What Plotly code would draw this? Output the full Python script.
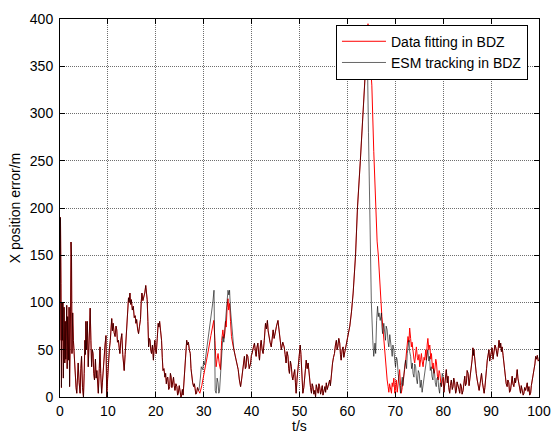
import plotly.graph_objects as go

# ---- data (t in s, error in m) ----
# common part (both curves coincide), 0 - 29 s
seg_a = [(0, 60), (0.1, 190), (0.2, 120), (0.3, 10), (0.4, 100), (0.5, 60), (0.6, 100), (0.7, 20),
         (0.85, 95), (1.0, 36), (1.1, 80), (1.2, 40), (1.4, 97), (1.5, 30), (1.6, 85), (1.8, 39),
         (1.9, 95), (2.0, 11), (2.2, 90), (2.3, 164), (2.4, 150), (2.5, 46), (2.65, 89), (2.8, 60),
         (3.0, 40), (3.1, 25), (3.2, 18), (3.35, 10), (3.5, 4), (3.65, 20), (3.8, 36), (4.0, 15),
         (4.2, 4), (4.35, 30), (4.5, 43), (4.7, 10), (4.9, 0), (5.05, 25), (5.2, 60), (5.3, 45),
         (5.4, 80), (5.55, 50), (5.7, 80), (5.9, 32), (6.1, 60), (6.3, 94), (6.45, 60), (6.6, 32),
         (6.75, 50), (6.9, 46), (7.05, 25), (7.2, 18), (7.4, 40), (7.55, 20), (7.7, 28), (7.85, 10),
         (8.0, 4), (8.2, 30), (8.35, 53), (8.5, 25), (8.7, 4), (8.85, 15), (9.0, 30), (9.2, 46),
         (9.4, 55), (9.6, 65), (9.75, 0), (9.95, 20), (10.1, 36), (10.3, 50), (10.5, 60),
         (10.65, 75), (10.8, 83), (10.95, 70), (11.1, 78), (11.3, 68), (11.5, 64), (11.7, 75),
         (11.85, 71), (12.0, 58), (12.2, 60), (12.35, 52), (12.5, 46), (12.7, 60), (12.9, 67),
         (13.1, 45), (13.25, 38), (13.4, 28), (13.6, 45), (13.8, 60), (14.0, 85), (14.15, 98),
         (14.3, 105), (14.45, 100), (14.6, 110), (14.75, 98), (14.9, 103), (15.1, 92), (15.3, 96),
         (15.5, 84), (15.7, 86), (15.85, 78), (16.0, 82), (16.2, 72), (16.4, 67), (16.6, 75),
         (16.8, 82), (16.95, 100), (17.1, 110), (17.3, 102), (17.5, 106), (17.7, 110), (17.9, 118),
         (18.05, 108), (18.2, 103), (18.35, 80), (18.5, 53), (18.65, 62), (18.8, 60), (18.95, 50),
         (19.1, 46), (19.3, 55), (19.5, 39), (19.65, 52), (19.8, 60), (19.95, 50), (20.1, 46),
         (20.3, 62), (20.5, 78), (20.65, 74), (20.8, 80), (21.0, 70), (21.2, 60), (21.35, 42),
         (21.5, 28), (21.7, 30), (21.9, 21), (22.05, 25), (22.2, 14), (22.35, 20), (22.5, 21),
         (22.7, 8), (22.9, 11), (23.05, 25), (23.2, 21), (23.35, 10), (23.5, 14), (23.7, 21),
         (23.85, 12), (24.0, 7), (24.2, 14), (24.4, 11), (24.55, 2), (24.7, 4), (24.9, 12),
         (25.1, 7), (25.25, 0), (25.4, 2), (25.55, 8), (25.7, 2), (25.9, 15), (26.1, 32),
         (26.3, 50), (26.45, 60), (26.6, 55), (26.8, 58), (27.0, 50), (27.2, 46), (27.35, 30),
         (27.5, 21), (27.7, 15), (27.9, 11), (28.05, 14), (28.2, 9), (28.35, 3), (28.5, 4),
         (28.7, 10), (28.9, 7)]

# 29 - 36 s, the curves differ
red_b = [(29.2, 4), (29.6, 12), (30.0, 22), (30.5, 35), (31.0, 50), (31.5, 65), (32.1, 81),
         (32.35, 60), (32.6, 32), (32.8, 40), (33.0, 46), (33.25, 35), (33.5, 29), (33.75, 60),
         (34.0, 71), (34.2, 62), (34.4, 67), (34.55, 80), (34.7, 74), (34.9, 95), (35.07, 104),
         (35.2, 92), (35.4, 99), (35.6, 80), (35.8, 64), (36.1, 55)]
black_b = [(29.0, 7), (29.3, 20), (29.5, 32), (29.8, 29), (30.0, 38), (30.2, 34), (30.5, 45),
           (30.9, 64), (31.2, 72), (31.6, 88), (31.9, 100), (32.15, 113), (32.3, 60), (32.4, 7),
           (32.6, 4), (32.8, 20), (33.0, 15), (33.15, 4), (33.3, 6), (33.5, 25), (33.7, 36),
           (34.0, 64), (34.2, 58), (34.35, 67), (34.5, 85), (34.7, 92), (34.9, 105), (35.07, 113),
           (35.25, 108), (35.4, 113), (35.6, 92), (35.85, 75), (36.1, 60)]

# common part, 36 - 63.6 s
seg_c = [(36.3, 50), (36.55, 44), (36.8, 39), (37.0, 33), (37.2, 29), (37.45, 18), (37.7, 11),
         (37.95, 20), (38.2, 29), (38.35, 40), (38.5, 43), (38.7, 30), (38.85, 32), (39.0, 45),
         (39.2, 43), (39.5, 30), (39.8, 36), (39.95, 44), (40.1, 46), (40.35, 52), (40.6, 57),
         (40.8, 48), (40.95, 43), (41.1, 52), (41.3, 57), (41.5, 45), (41.65, 39), (41.85, 55),
         (42.0, 60), (42.2, 50), (42.4, 46), (42.65, 60), (42.9, 78), (43.1, 72), (43.3, 81),
         (43.45, 70), (43.6, 64), (43.85, 58), (44.1, 53), (44.3, 65), (44.5, 71), (44.7, 62),
         (44.95, 71), (45.2, 75), (45.5, 81), (45.7, 70), (45.85, 64), (46.0, 57), (46.2, 50),
         (46.5, 58), (46.8, 53), (47.0, 45), (47.2, 36), (47.4, 48), (47.6, 43), (47.75, 30),
         (47.9, 25), (48.1, 38), (48.3, 32), (48.45, 22), (48.6, 18), (48.8, 24), (49.0, 29),
         (49.15, 15), (49.3, 4), (49.5, 20), (49.7, 32), (49.85, 42), (50.0, 50), (50.15, 55),
         (50.3, 45), (50.5, 20), (50.7, 4), (50.9, 10), (51.1, 18), (51.25, 30), (51.4, 39),
         (51.6, 30), (51.8, 36), (51.95, 25), (52.1, 18), (52.3, 10), (52.5, 4), (52.65, 14),
         (52.8, 11), (53.0, 3), (53.2, 7), (53.35, 0), (53.5, 13), (53.7, 8), (53.9, 4),
         (54.05, 14), (54.2, 11), (54.4, 3), (54.6, 7), (54.75, 12), (54.9, 2), (55.1, 8),
         (55.3, 11), (55.45, 5), (55.6, 15), (55.8, 8), (55.95, 11), (56.1, 15), (56.3, 18),
         (56.45, 12), (56.6, 22), (56.75, 30), (56.9, 36), (57.1, 42), (57.3, 46), (57.5, 55),
         (57.7, 60), (57.85, 50), (58.0, 53), (58.2, 62), (58.4, 57), (58.55, 45), (58.7, 39),
         (58.9, 50), (59.1, 53), (59.25, 42), (59.4, 46), (59.65, 55), (59.9, 60), (60.2, 68),
         (60.5, 75), (60.85, 90), (61.2, 110), (61.7, 150), (62.1, 200), (62.7, 250), (63.3, 300),
         (63.6, 330)]

# 63.6 - 80 s, the curves differ
red_d = [(64.0, 370), (64.3, 395), (64.7, 360), (65.1, 330), (65.5, 260), (65.9, 200),
         (66.2, 165), (66.45, 150), (66.7, 124), (67.0, 101), (67.2, 85), (67.4, 74), (67.6, 60),
         (67.8, 50), (67.95, 35), (68.1, 25), (68.3, 18), (68.5, 11), (68.65, 5), (68.8, 14),
         (69.0, 8), (69.2, 4), (69.35, 15), (69.5, 11), (69.7, 20), (69.9, 4), (70.05, 10),
         (70.2, 18), (70.4, 5), (70.55, 11), (70.75, 22), (70.9, 29), (71.1, 12), (71.25, 4),
         (71.45, 10), (71.6, 18), (71.8, 22), (71.95, 29), (72.1, 35), (72.3, 46), (72.5, 55),
         (72.65, 64), (72.85, 58), (73.0, 73), (73.2, 62), (73.35, 53), (73.5, 58), (73.7, 46),
         (73.9, 40), (74.05, 36), (74.25, 48), (74.4, 53), (74.6, 42), (74.75, 39), (74.95, 45),
         (75.1, 32), (75.3, 40), (75.45, 46), (75.6, 38), (75.8, 32), (76.0, 42), (76.15, 39),
         (76.35, 50), (76.5, 39), (76.65, 55), (76.8, 62), (77.0, 50), (77.2, 55), (77.4, 40),
         (77.55, 46), (77.75, 30), (77.9, 36), (78.1, 25), (78.25, 29), (78.45, 40), (78.6, 36),
         (78.8, 22), (78.95, 18), (79.15, 28), (79.3, 25), (79.5, 15), (79.65, 11), (79.85, 18),
         (80.0, 21)]
black_d = [(63.9, 365), (64.1, 385), (64.4, 280), (64.7, 170), (65.0, 100), (65.3, 60),
           (65.5, 43), (65.75, 57), (65.9, 46), (66.1, 81), (66.3, 96), (66.45, 85), (66.6, 89),
           (66.85, 81), (67.1, 89), (67.2, 75), (67.35, 67), (67.6, 78), (67.8, 65), (67.95, 60),
           (68.1, 75), (68.3, 71), (68.5, 58), (68.65, 53), (68.85, 66), (69.0, 60), (69.2, 48),
           (69.35, 43), (69.5, 55), (69.7, 50), (69.9, 38), (70.05, 32), (70.25, 42), (70.4, 39),
           (70.6, 25), (70.75, 18), (70.95, 10), (71.1, 4), (71.3, 15), (71.45, 21), (71.6, 12),
           (71.8, 29), (72.0, 35), (72.15, 39), (72.35, 30), (72.5, 46), (72.7, 55), (72.85, 60),
           (73.0, 48), (73.2, 43), (73.4, 30), (73.55, 36), (73.7, 25), (73.9, 21), (74.05, 35),
           (74.25, 32), (74.4, 20), (74.6, 14), (74.8, 28), (75.0, 25), (75.2, 10), (75.4, 18),
           (75.6, 5), (75.75, 11), (75.95, 20), (76.1, 25), (76.3, 35), (76.45, 39), (76.65, 45),
           (76.8, 50), (77.0, 38), (77.15, 43), (77.3, 28), (77.5, 32), (77.65, 22), (77.85, 18),
           (78.0, 30), (78.2, 25), (78.35, 15), (78.55, 11), (78.7, 20), (78.9, 21), (79.05, 10),
           (79.25, 4), (79.4, 15), (79.6, 11), (79.8, 25), (80.0, 21)]

# common part, 80 - 100 s
seg_e = [(80.15, 5), (80.3, 14), (80.5, 22), (80.65, 29), (80.85, 15), (81.0, 22), (81.15, 10),
         (81.35, 4), (81.5, 12), (81.7, 18), (81.9, 8), (82.05, 11), (82.2, 20), (82.4, 15),
         (82.6, 4), (82.75, 7), (82.9, 16), (83.1, 13), (83.3, 8), (83.45, 4), (83.6, 14),
         (83.8, 11), (83.95, 3), (84.15, 7), (84.3, 15), (84.5, 22), (84.65, 12), (84.85, 15),
         (85.0, 28), (85.2, 25), (85.4, 12), (85.55, 18), (85.75, 22), (85.9, 29), (86.05, 40),
         (86.2, 52), (86.3, 44), (86.4, 50), (86.55, 40), (86.7, 36), (86.9, 25), (87.1, 18),
         (87.3, 12), (87.5, 7), (87.7, 14), (87.85, 18), (88.0, 25), (88.2, 15), (88.4, 8),
         (88.55, 4), (88.7, 10), (88.9, 18), (89.05, 30), (89.2, 39), (89.4, 45), (89.55, 50),
         (89.7, 38), (89.9, 43), (90.05, 48), (90.2, 52), (90.4, 40), (90.6, 46), (90.8, 55),
         (90.95, 53), (91.1, 48), (91.3, 43), (91.5, 52), (91.65, 60), (91.85, 52), (92.0, 57),
         (92.15, 48), (92.3, 53), (92.5, 44), (92.65, 36), (92.8, 30), (93.0, 22), (93.15, 14),
         (93.35, 11), (93.5, 18), (93.7, 15), (93.85, 5), (94.05, 7), (94.2, 15), (94.4, 22),
         (94.55, 14), (94.75, 11), (94.95, 20), (95.1, 15), (95.3, 22), (95.45, 29), (95.6, 20),
         (95.8, 15), (95.95, 8), (96.15, 4), (96.3, 12), (96.5, 7), (96.7, 2), (96.85, 4),
         (97.0, 10), (97.2, 7), (97.4, 12), (97.55, 15), (97.7, 6), (97.9, 11), (98.05, 2),
         (98.25, 4), (98.4, 12), (98.6, 18), (98.8, 22), (98.95, 29), (99.15, 35), (99.3, 43),
         (99.5, 40), (99.65, 44), (99.85, 38), (100.0, 39)]

x_ticks = [0, 10, 20, 30, 40, 50, 60, 70, 80, 90, 100]
y_ticks = [0, 50, 100, 150, 200, 250, 300, 350, 400]
x_title = "t/s"
y_title = "X position error/m"

red_pts = seg_a + red_b + seg_c + red_d + seg_e
black_pts = seg_a + black_b + seg_c + black_d + seg_e

FONT = "Liberation Sans, Arial, Helvetica, sans-serif"

fig = go.Figure()
fig.add_trace(go.Scatter(x=[p[0] for p in red_pts], y=[p[1] for p in red_pts], mode="lines",
                         name="Data fitting in BDZ", line=dict(color="#ff0000", width=1)))
fig.add_trace(go.Scatter(x=[p[0] for p in black_pts], y=[p[1] for p in black_pts], mode="lines",
                         name="ESM tracking in BDZ", line=dict(color="rgba(0,0,0,0.6)", width=1)))

axis_common = dict(showline=True, linecolor="black", linewidth=1, mirror="ticks",
                   ticks="inside", ticklen=5, tickcolor="black", automargin=False,
                   showgrid=True, gridcolor="rgb(110,110,110)", griddash="1px,1px", gridwidth=1,
                   zeroline=False, tickfont=dict(family=FONT, size=14, color="black"))

fig.update_layout(
    width=552, height=433,
    margin=dict(l=60, r=13, t=19, b=36),
    paper_bgcolor="white", plot_bgcolor="white",
    font=dict(family=FONT, size=14, color="black"),
    xaxis=dict(range=[0, 100], tickvals=x_ticks, ticklabelstandoff=1, **axis_common),
    yaxis=dict(range=[0, 400], tickvals=y_ticks, ticklabelstandoff=3,
               title=dict(text=y_title, standoff=5, font=dict(family=FONT, size=14)),
               **axis_common),
    legend=dict(x=0.977, y=0.985, xanchor="right", yanchor="top",
                bgcolor="white", bordercolor="black", borderwidth=1,
                font=dict(family=FONT, size=14), itemwidth=44, tracegroupgap=0),
    showlegend=True,
    annotations=[dict(text=x_title, xref="paper", yref="paper", x=0.5, y=0,
                      xanchor="center", yanchor="middle", yshift=-29, showarrow=False,
                      font=dict(family=FONT, size=14, color="black"))],
)

# remove the default page margin so the figure fills the 552x433 window exactly
fig.write_html("out.html", config={"displayModeBar": False},
               post_script="document.body.style.margin='0';document.body.style.overflow='hidden';")
